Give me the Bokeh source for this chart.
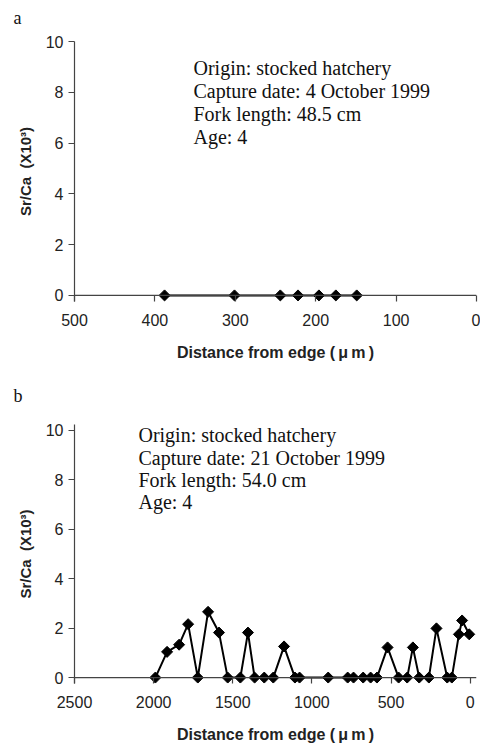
import math
from bokeh.plotting import figure
from bokeh.models import Range1d, Label, Span, FixedTicker, Title
from bokeh.layouts import column
from bokeh.embed import file_html
from bokeh.resources import INLINE

# ---------------- data ----------------
# Panel a
a_dist = [388, 301, 244, 222, 196, 175, 149]
a_srca = [0, 0, 0, 0, 0, 0, 0]
a_info = ["Origin: stocked hatchery", "Capture date: 4 October 1999",
          "Fork length: 48.5 cm", "Age: 4"]
a_xticks = [500, 400, 300, 200, 100, 0]

# Panel b
b_dist = [1989, 1915, 1839, 1782, 1721, 1656, 1587, 1532, 1452, 1404, 1362,
          1301, 1244, 1176, 1107, 1078, 897, 774, 737, 676, 629, 589, 522,
          452, 398, 362, 322, 261, 213, 145, 116, 71, 51, 6]
b_srca = [0, 1.04, 1.33, 2.16, 0, 2.66, 1.82, 0, 0, 1.82, 0,
          0, 0, 1.26, 0, 0, 0, 0, 0, 0, 0, 0, 1.22,
          0, 0, 1.22, 0, 0, 1.99, 0, 0, 1.75, 2.31, 1.75]
b_info = ["Origin: stocked hatchery", "Capture date: 21 October 1999",
          "Fork length: 54.0 cm", "Age: 4"]
b_xticks = [2500, 2000, 1500, 1000, 500, 0]

y_ticks = [0, 2, 4, 6, 8, 10]

SERIF = "Liberation Serif"
SANS = "Liberation Sans"
AXIS_COL = "#444444"
TEXT_COL = "#222222"


def make_panel(letter, xs, ys, info, xticks, xstart, xend, ytop, height,
               border_top, border_bottom, border_right, info_x, info_y0,
               info_dy, spacer_size):
    p = figure(width=480, height=height, output_backend="svg",
               toolbar_location=None,
               x_range=Range1d(xstart, xend), y_range=Range1d(-0.24, ytop),
               min_border_left=74, min_border_right=border_right,
               min_border_top=border_top, min_border_bottom=border_bottom)
    p.outline_line_color = None
    p.xgrid.visible = False
    p.ygrid.visible = False
    p.background_fill_color = "white"
    p.border_fill_color = "white"

    # y axis
    yax = p.yaxis[0]
    yax.ticker = FixedTicker(ticks=y_ticks)
    yax.axis_line_color = AXIS_COL
    yax.axis_line_width = 1.2
    yax.major_tick_line_color = AXIS_COL
    yax.major_tick_in = 0
    yax.major_tick_out = 6
    yax.minor_tick_line_color = None
    yax.major_label_text_font = SANS
    yax.major_label_text_font_size = "16px"
    yax.major_label_text_color = TEXT_COL
    yax.major_label_standoff = 5
    yax.axis_label = "Sr/Ca\u00a0\u00a0(X10³)"
    yax.axis_label_text_font = SANS
    yax.axis_label_text_font_style = "bold"
    yax.axis_label_text_font_size = "15px"
    yax.axis_label_text_color = TEXT_COL
    yax.axis_label_standoff = 9

    # x axis (line drawn at y=0 by a Span; ticks point down from it)
    xax = p.xaxis[0]
    xax.ticker = FixedTicker(ticks=xticks)
    xax.axis_line_color = None
    xax.major_tick_line_color = AXIS_COL
    xax.major_tick_line_width = 1.2
    xax.major_tick_in = 6
    xax.major_tick_out = 0
    xax.minor_tick_line_color = None
    xax.major_label_text_font = SANS
    xax.major_label_text_font_size = "16px"
    xax.major_label_text_color = TEXT_COL
    xax.major_label_standoff = 12
    xax.axis_label = "Distance from edge (\u2009μ\u2009m\u2009)"
    xax.axis_label_text_font = SANS
    xax.axis_label_text_font_style = "bold"
    xax.axis_label_text_font_size = "16px"
    xax.axis_label_text_color = TEXT_COL
    xax.axis_label_standoff = 15

    p.add_layout(Span(location=0, dimension="width", line_color=AXIS_COL,
                      line_width=1.2))

    p.line(xs, ys, line_color="black", line_width=2)
    p.scatter(xs, ys, marker="square", size=7.8, angle=math.pi / 4,
              fill_color="black", line_color="black")

    for i, t in enumerate(info):
        p.add_layout(Label(x=info_x, y=info_y0 - i * info_dy, text=t,
                           text_font=SERIF, text_font_size="20px",
                           text_color="#111111", text_baseline="alphabetic",
                           text_align="left"))

    # spacer title (closest to the frame) then the panel letter above it
    p.add_layout(Title(text=" ", text_font_size=spacer_size, standoff=0),
                 "above")
    p.add_layout(Title(text=letter, align="left", offset=-61,
                       text_font=SERIF, text_font_size="18px",
                       text_font_style="normal", text_color="#111111"),
                 "above")
    return p


pa = make_panel("a", a_dist, a_srca, a_info, a_xticks, 500, 0, 10,
                height=378, border_top=41, border_bottom=77, border_right=2,
                info_x=352, info_y0=8.95, info_dy=0.9, spacer_size="7px")
pb = make_panel("b", b_dist, b_srca, b_info, b_xticks, 2500, -40, 10.24,
                height=369, border_top=42, border_bottom=64, border_right=4,
                info_x=2096, info_y0=9.80, info_dy=0.9, spacer_size="11px")

layout = column(pa, pb, spacing=0)
open("out.html", "w").write(file_html(layout, INLINE))
